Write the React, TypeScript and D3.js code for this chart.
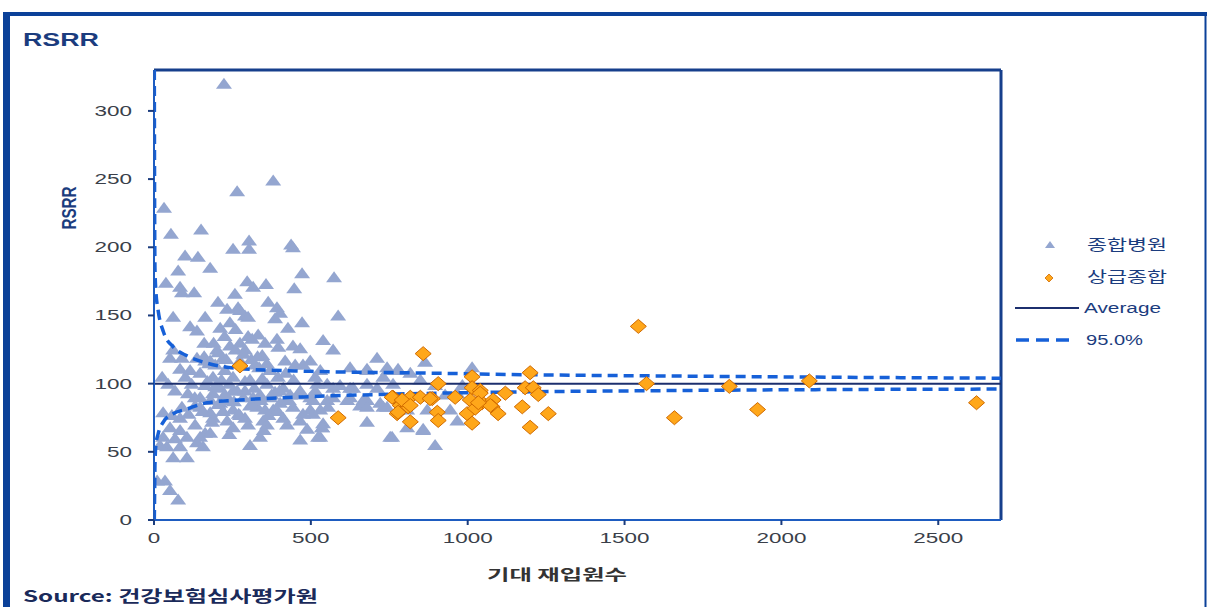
import React from "react";
import * as d3 from "d3";

// 종합병원 (expected readmissions, RSRR)
const generalX = [223,380,265,32,54,150,303,252,303,437,443,99,140,77,179,472,574,38,83,89,128,297,316,357,447,258,204,233,268,364,392,402,587,290,61,163,115,137,211,242,274,300,386,472,427,313,332,354,392,396,443,466,539,571,61,51,89,137,274,242,201,220,179,711,679,746,26,45,83,67,147,188,252,306,360,412,466,520,571,625,679,731,108,147,188,252,316,370,424,498,552,625,679,89,147,211,252,329,380,443,498,555,657,731,29,57,83,188,233,290,348,412,466,507,539,679,51,83,131,163,252,360,424,536,29,67,105,147,179,41,83,137,338,466,530,19,61,105,156,306,10,35,51,77,625,679,743,778,475,514,552,593,635,711,762,864,1014,967,507,571,616,667,721,475,530,679,743,807,871,944,967,488,536,807,858,523,759,896,778,858,753,928,983,896,849,817,195,226,274,322,345,418,450,290,338,386,211,163,242,306,402,131,354,274,179,434,163,115,370,290,498,530,514,
  160,175,205,230,260,285,310,335,360,395,420,445,170,195,215,240,265,290,320,345,375,400,430,460,180,205,225,255,285,315,340,365,395,120,100,130,155,185,220,270,300,350,240,110,225,260,300,330,190,160];
const generalY = [320,249,241,229,210,213,205,199,199,202,200,194,193,183,185,181,178,174,171,167,167,175,171,173,170,166,160,155,156,160,156,152,150,150,149,149,142,139,141,145,154,149,148,145,141,133,136,130,133,127,128,126,132,125,125,119,119,119,130,128,125,119,117,119,111,110,105,100,111,95,108,105,105,103,100,97,95,100,97,97,100,105,93,90,93,95,90,90,89,90,88,90,88,83,83,86,81,83,81,83,81,83,84,83,79,77,75,75,73,75,73,75,73,78,71,72,68,66,70,64,68,70,70,68,61,60,61,61,64,54,54,57,61,59,61,55,46,46,54,55,29,29,22,15,112,110,112,110,114,105,100,99,97,97,100,116,112,93,88,90,88,88,86,78,81,83,83,81,81,81,73,67,68,68,67,61,61,55,111,66,61,92,99,99,103,108,114,110,117,114,121,117,114,95,92,94,97,99,88,84,86,84,81,77,79,92,117,110,110,125,117,110,95,
  120,115,123,118,125,122,118,112,115,105,108,103,102,98,103,100,95,102,97,104,92,95,88,92,88,85,92,87,90,85,88,77,80,100,105,90,80,72,80,78,70,66,63,78,135,140,135,120,130,130];

// 상급종합
const tertiaryX = [274,587,858,906,1014,1199,762,817,785,810,887,775,817,903,906,960,1014,1040,1008,1046,1081,998,1024,1014,1078,1097,1120,1174,1183,1209,1225,1257,1199,1544,1570,1659,1834,1924,2089,2622,759,791,849,817,778,880,1040,1072,1034];
const tertiaryY = [113,75,122,100,105,108,90,90,84,83,89,78,72,79,73,90,97,95,88,86,88,78,82,71,83,78,93,83,97,97,92,78,68,142,100,75,98,81,102,86,90,88,90,84,79,89,93,84,86];

const averageValue = 100;

// 95.0% control limits read from the funnel
const limitN = [1, 2, 3, 6, 13, 30, 61, 100, 169, 274, 500, 800, 1200, 1700, 2300, 2700];
const limitUpper = [330, 230, 185, 168, 154, 138, 127, 121, 115, 111, 109, 108, 106.5, 105.5, 104.5, 104];
const limitLower = [0, 20, 40, 55, 63, 72, 78, 81, 86, 88, 90.5, 92.5, 94, 95, 95.8, 96];

const xTicks = [0, 500, 1000, 1500, 2000, 2500];
const yTicks = [0, 50, 100, 150, 200, 250, 300];

const legendLabels = ["종합병원", "상급종합", "Average", "95.0%"];

export default function App() {
  const W = 1208, H = 607;
  const L = 154, R = 1001, T = 70, B = 520;
  const x = d3.scaleLinear().domain([0, 2700]).range([L, R]);
  const y = d3.scaleLinear().domain([0, 330]).range([B, T]);

  const line = d3.line<number>().curve(d3.curveMonotoneX);
  const upperPath = line(limitN.map((n, i) => [x(n), y(limitUpper[i])] as any)) || "";
  const lowerPath = line(limitN.map((n, i) => [x(n), y(limitLower[i])] as any)) || "";

  const tri = "M0,-6 L8,5 L-8,5 Z";
  const dia = "M0,-7 L8,0 L0,7 L-8,0 Z";
  const navy = "#1b3c7e";
  const dashBlue = "#1660d8";
  const triFill = "#94a6d0";
  const digitW = 12.5;

  return (
    <svg width={W} height={H} style={{ position: "absolute", left: 0, top: 0, background: "#fff" }}
      fontFamily="Liberation Sans, Arial, sans-serif">
      <defs>
        <clipPath id="plot">
          <rect x={L} y={T} width={R - L} height={B - T} />
        </clipPath>
      </defs>
      {/* outer frame */}
      <line x1={3} y1={14} x2={1207} y2={14} stroke="#0b4199" strokeWidth={4} />
      <line x1={6.5} y1={12} x2={6.5} y2={607} stroke="#0b4199" strokeWidth={7} />
      <line x1={1205.5} y1={12} x2={1205.5} y2={607} stroke="#0b4199" strokeWidth={2} />

      <text x={23} y={46} fontSize={18} fontWeight="bold" fill={navy} textLength={76} lengthAdjust="spacingAndGlyphs">RSRR</text>

      {/* plot border */}
      <line x1={L} y1={T} x2={R} y2={T} stroke="#163f8c" strokeWidth={3} />
      <line x1={R} y1={T} x2={R} y2={B} stroke="#163f8c" strokeWidth={3} />

      <g clipPath="url(#plot)">
        {generalX.map((v, i) => (
          <path key={"t" + i} d={tri} transform={`translate(${x(v)},${y(generalY[i])})`} fill={triFill} />
        ))}
        <line x1={x(0)} x2={x(2700)} y1={y(averageValue)} y2={y(averageValue)} stroke="#1c2f6e" strokeWidth={2} />
        <path d={upperPath} fill="none" stroke={dashBlue} strokeWidth={3.5} strokeDasharray="10,6" />
        <path d={lowerPath} fill="none" stroke={dashBlue} strokeWidth={3.5} strokeDasharray="10,6" />
        {tertiaryX.map((v, i) => (
          <path key={"d" + i} d={dia} transform={`translate(${x(v)},${y(tertiaryY[i])})`} fill="#ffa71a" stroke="#d06a00" strokeWidth={1} />
        ))}
      </g>

      {/* axes */}
      <line x1={L} y1={T} x2={L} y2={B} stroke="#1e5cc0" strokeWidth={2} />
      <line x1={L} y1={B} x2={R} y2={B} stroke="#1e5cc0" strokeWidth={2} />
      {yTicks.map((t) => (
        <g key={"y" + t}>
          <line x1={L - 6} x2={L} y1={y(t)} y2={y(t)} stroke="#1b3c7e" strokeWidth={2} />
          <text x={132} y={y(t)} dy="0.35em" textAnchor="end" fontSize={14} fill="#3a3f4a"
            textLength={String(t).length * digitW} lengthAdjust="spacingAndGlyphs">{t}</text>
        </g>
      ))}
      {xTicks.map((t) => (
        <g key={"x" + t}>
          <line x1={x(t)} x2={x(t)} y1={B} y2={B + 5} stroke="#1b3c7e" strokeWidth={2} />
          <text x={x(t)} y={538} dy="0.35em" textAnchor="middle" fontSize={14} fill="#3a3f4a"
            textLength={String(t).length * digitW} lengthAdjust="spacingAndGlyphs">{t}</text>
        </g>
      ))}

      <text transform="translate(76,208) rotate(-90)" textAnchor="middle" fontSize={20} fontWeight="bold"
        fill={navy} textLength={43} lengthAdjust="spacingAndGlyphs">RSRR</text>
      <text x={557} y={580} textAnchor="middle" fontSize={15} fontWeight="bold" fill="#333"
        fontFamily="Noto Sans CJK KR, sans-serif" textLength={140} lengthAdjust="spacingAndGlyphs">기대 재입원수</text>

      {/* legend */}
      <path d="M0,-4 L5,3 L-5,3 Z" transform="translate(1050,245)" fill={triFill} />
      <text x={1087} y={245} dy="0.35em" fontSize={15} fill={navy} fontFamily="Noto Sans CJK KR, sans-serif"
        textLength={80} lengthAdjust="spacingAndGlyphs">{legendLabels[0]}</text>
      <path d="M0,-4 L4,0 L0,4 L-4,0 Z" transform="translate(1049,278)" fill="#ffa71a" stroke="#d06a00" strokeWidth={0.8} />
      <text x={1087} y={277} dy="0.35em" fontSize={15} fill={navy} fontFamily="Noto Sans CJK KR, sans-serif"
        textLength={80} lengthAdjust="spacingAndGlyphs">{legendLabels[1]}</text>
      <line x1={1015} x2={1079} y1={308} y2={308} stroke="#1c2f6e" strokeWidth={2} />
      <text x={1084} y={308} dy="0.35em" fontSize={14} fill={navy} textLength={77} lengthAdjust="spacingAndGlyphs">{legendLabels[2]}</text>
      <line x1={1016} x2={1074} y1={340} y2={340} stroke={dashBlue} strokeWidth={3.5} strokeDasharray="13,7" />
      <text x={1086} y={340} dy="0.35em" fontSize={14} fill={navy} textLength={57} lengthAdjust="spacingAndGlyphs">{legendLabels[3]}</text>

      <text x={23} y={602} fontSize={16} fontWeight="bold" fill="#1a2a5a" fontFamily="Noto Sans CJK KR, sans-serif"
        textLength={295} lengthAdjust="spacingAndGlyphs">Source: 건강보험심사평가원</text>
    </svg>
  );
}
